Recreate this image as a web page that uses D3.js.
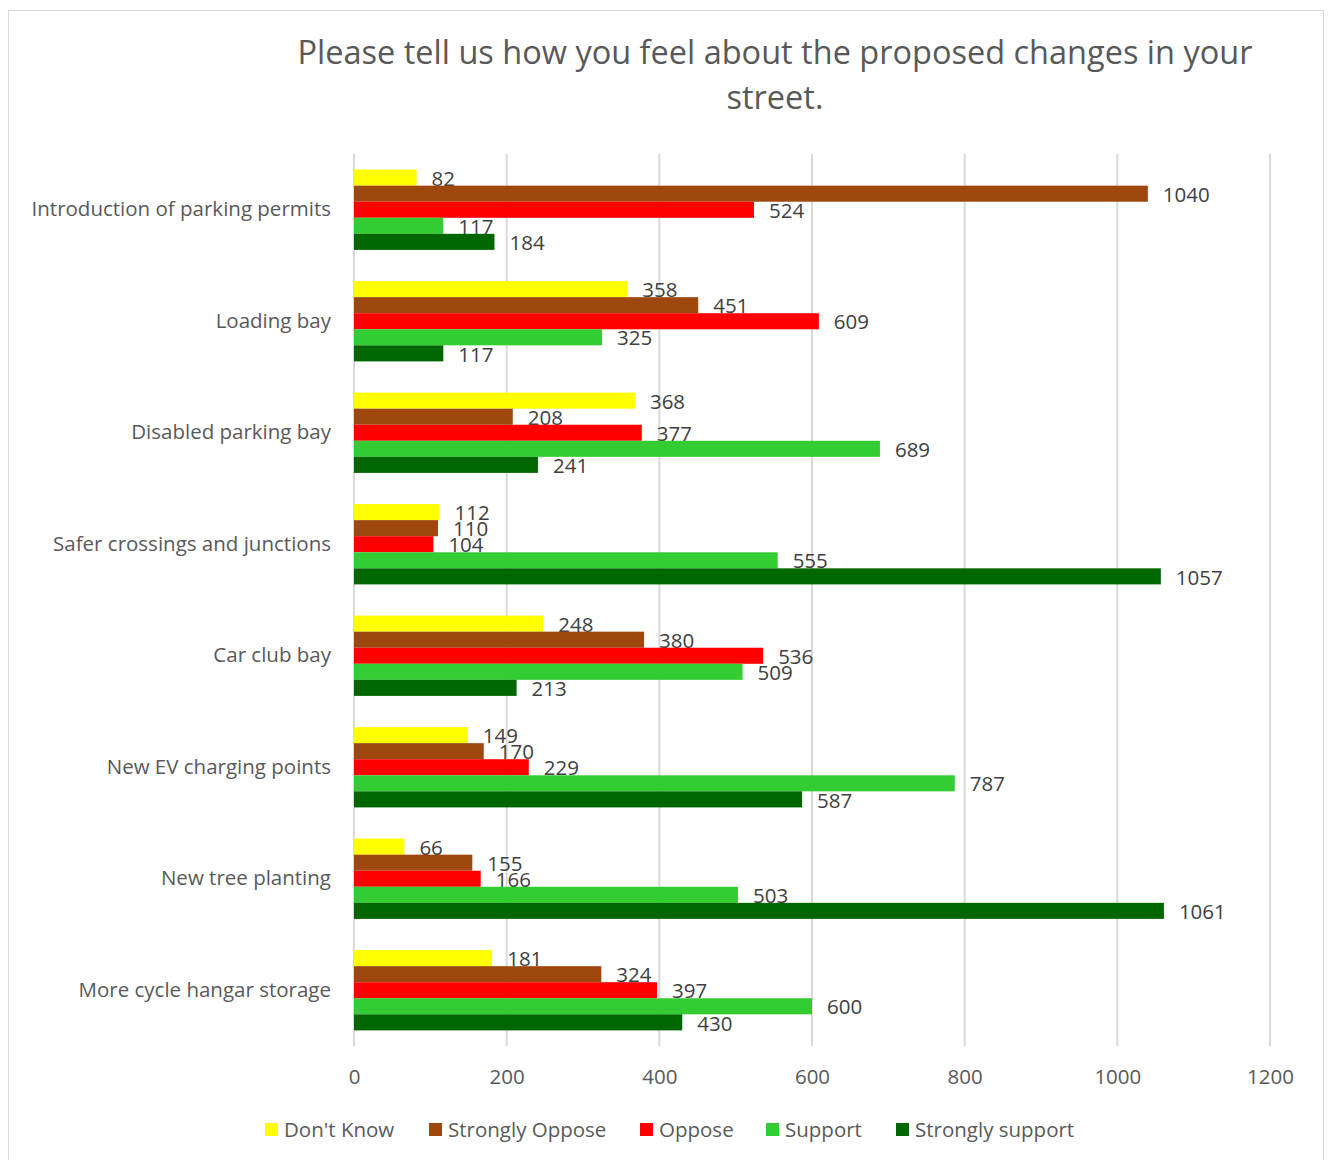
<!DOCTYPE html>
<html><head><meta charset="utf-8">
<script src="https://cdn.jsdelivr.net/npm/d3@7"></script>
<style>body{margin:0;background:#fff}svg{display:block}text{font-family:"Open Sans",sans-serif}</style>
</head><body><svg id="c" width="1331" height="1160"></svg>
<script>
const categories = ["Introduction of parking permits","Loading bay","Disabled parking bay","Safer crossings and junctions","Car club bay","New EV charging points","New tree planting","More cycle hangar storage"];
const seriesNames = ["Don't Know","Strongly Oppose","Oppose","Support","Strongly support"];
const dontKnow = [82,358,368,112,248,149,66,181];
const stronglyOppose = [1040,451,208,110,380,170,155,324];
const oppose = [524,609,377,104,536,229,166,397];
const support = [117,325,689,555,509,787,503,600];
const stronglySupport = [184,117,241,1057,213,587,1061,430];
const xTicks = [0,200,400,600,800,1000,1200];
const colors = ["#FFFF00","#9E480E","#FF0000","#33CC33","#006600"];
const seriesValues = [dontKnow,stronglyOppose,oppose,support,stronglySupport];

const svg = d3.select("#c");
svg.append("rect").attr("x",8.5).attr("y",10.5).attr("width",1315).attr("height",1160).attr("fill","#fff").attr("stroke","#d9d9d9");

const x = d3.scaleLinear().domain([0,1200]).range([354,1270]);
const y = d3.scaleBand().domain(categories).range([154,1046]).paddingInner(0.28).paddingOuter(0.14);
const y1 = d3.scaleBand().domain(seriesNames).range([0,y.bandwidth()]);

// gridlines
svg.append("g").selectAll("line").data(xTicks).join("line")
  .attr("x1",d=>x(d)).attr("x2",d=>x(d)).attr("y1",154).attr("y2",1046)
  .attr("stroke","#d9d9d9").attr("stroke-width",2);

// x tick labels
const xAxis = d3.axisBottom(x).tickValues(xTicks).tickFormat(d3.format("d")).tickSize(0).tickPadding(0);
const gx = svg.append("g").attr("transform","translate(0,1084)").call(xAxis);
gx.select(".domain").remove();
gx.selectAll("text").attr("font-size",20.5).attr("fill","#595959").attr("font-family","'Open Sans',sans-serif").attr("dy","0");

// y labels
const yAxis = d3.axisLeft(y).tickSize(0).tickPadding(0);
const gy = svg.append("g").attr("transform","translate(331,0)").call(yAxis);
gy.select(".domain").remove();
gy.selectAll("text").attr("font-size",20.5).attr("fill","#595959").attr("font-family","'Open Sans',sans-serif");

// bars
const groups = svg.append("g").selectAll("g").data(categories).join("g")
  .attr("transform",d=>`translate(0,${y(d)})`);
groups.each(function(cat,ci){
  const g = d3.select(this);
  seriesNames.forEach((s,si)=>{
    const v = seriesValues[si][ci];
    g.append("rect").attr("x",x(0)).attr("y",y1(s)).attr("width",x(v)-x(0)).attr("height",y1.bandwidth()).attr("fill",colors[si]);
    g.append("text").attr("x",x(v)+15).attr("y",y1(s)+y1.bandwidth()/2+1).attr("dy","0.35em")
      .attr("font-size",20.5).attr("fill","#404040").text(v);
  });
});

// title
const title = svg.append("text").attr("text-anchor","middle").attr("font-size",32.5).attr("fill","#595959");
title.append("tspan").attr("x",775).attr("y",64).text("Please tell us how you feel about the proposed changes in your");
title.append("tspan").attr("x",775).attr("y",109).text("street.");

// legend
const legX = [265,429,640,766,896];
const leg = svg.append("g").selectAll("g").data(seriesNames).join("g")
  .attr("transform",(d,i)=>`translate(${legX[i]},1123)`);
leg.append("rect").attr("width",13).attr("height",13).attr("fill",(d,i)=>colors[i]);
leg.append("text").attr("x",19).attr("y",7).attr("dy","0.35em").attr("font-size",20.5).attr("fill","#595959").text(d=>d);
</script></body></html>
